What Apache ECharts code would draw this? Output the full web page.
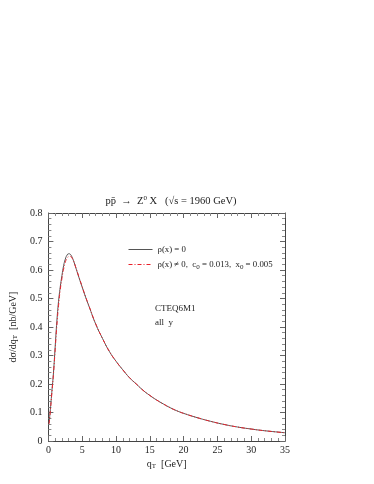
<!DOCTYPE html>
<html>
<head>
<meta charset="utf-8">
<script src="https://cdn.jsdelivr.net/npm/echarts@6/dist/echarts.min.js"></script>
<style>
  html, body { margin: 0; padding: 0; background: #fff; }
  #myChart { width: 374px; height: 484px; }
</style>
</head>
<body>
<div id="myChart"></div>
<script>
  // q_T values (GeV)
  var qT = [0.1, 0.25, 0.5, 0.75, 1, 1.25, 1.5, 1.75, 2, 2.25, 2.5, 2.75, 3, 3.25, 3.5, 3.75, 4, 4.5, 5, 5.5, 6, 7, 8, 9, 10, 11, 12, 13, 14, 15, 16, 17, 18, 19, 20, 22, 24, 26, 28, 30, 32, 35]
  // rho(x) = 0
  var rhoZero = [0.063, 0.1, 0.17, 0.24, 0.33, 0.42, 0.49, 0.54, 0.58, 0.615, 0.638, 0.652, 0.657, 0.655, 0.645, 0.63, 0.612, 0.575, 0.54, 0.505, 0.473, 0.41, 0.36, 0.315, 0.28, 0.25, 0.222, 0.2, 0.178, 0.16, 0.144, 0.13, 0.117, 0.106, 0.097, 0.082, 0.069, 0.058, 0.049, 0.042, 0.036, 0.029]
  // rho(x) != 0, c0 = 0.013, x0 = 0.005
  var rhoNonZero = [0.06, 0.095, 0.165, 0.235, 0.32, 0.405, 0.475, 0.53, 0.57, 0.603, 0.627, 0.641, 0.647, 0.648, 0.642, 0.63, 0.613, 0.577, 0.541, 0.506, 0.474, 0.411, 0.36, 0.315, 0.28, 0.25, 0.222, 0.2, 0.178, 0.16, 0.144, 0.13, 0.117, 0.106, 0.097, 0.082, 0.069, 0.058, 0.049, 0.042, 0.036, 0.029]

  var FONT = 'Liberation Serif'

  function pairs (xs, ys) {
    var out = []
    for (var i = 0; i < xs.length; i++) {
      out.push([xs[i], ys[i]])
    }
    return out
  }

  var axisCommon = {
    axisLine: { show: true, onZero: false, lineStyle: { color: '#444', width: 1 } },
    axisTick: { show: true, inside: true, length: 5, lineStyle: { color: '#666' } },
    minorTick: { show: true, splitNumber: 5, length: 3, lineStyle: { color: '#888' } },
    splitLine: { show: false }
  }

  var subStyle = { fontSize: 7, verticalAlign: 'bottom', padding: [5, 0, 0, 0], fontFamily: FONT, color: '#222' }

  var option = {
    animation: false,
    textStyle: { fontFamily: FONT },
    title: {
      text: 'pp\u0304  \u2192  Z{sup|0} X   (\u221As = 1960 GeV)',
      left: 166,
      textAlign: 'center',
      top: 190,
      textStyle: {
        fontFamily: FONT,
        fontSize: 10.5,
        fontWeight: 'normal',
        color: '#222',
        rich: {
          sup: { fontSize: 7, verticalAlign: 'top', padding: [0, 0, 6, 0], fontFamily: FONT, color: '#222' }
        }
      }
    },
    legend: {
      orient: 'vertical',
      left: 128,
      top: 245,
      padding: 0,
      itemWidth: 24,
      itemHeight: 8,
      itemGap: 6,
      data: ['zero', 'nonzero'],
      itemStyle: { opacity: 0 },
      lineStyle: { width: 1 },
      formatter: function (name) {
        if (name === 'zero') return '\u03C1(x) = 0'
        return '\u03C1(x) \u2260 0,  c{sub|0} = 0.013,  x{sub|0} = 0.005'
      },
      textStyle: {
        fontFamily: FONT,
        fontSize: 8.8,
        color: '#222',
        rich: { sub: subStyle }
      }
    },
    graphic: [
      {
        type: 'text',
        left: 155,
        top: 304,
        style: { text: 'CTEQ6M1', font: '9px "Liberation Serif"', fill: '#222' }
      },
      {
        type: 'text',
        left: 155,
        top: 318,
        style: { text: 'all  y', font: '9px "Liberation Serif"', fill: '#222' }
      }
    ],
    grid: {
      left: 47,
      right: 89,
      top: 213,
      bottom: 43
    },
    xAxis: [
      Object.assign({}, axisCommon, {
        type: 'value',
        min: 0,
        max: 35,
        interval: 5,
        name: 'q{sub|T}  [GeV]',
        nameLocation: 'middle',
        nameGap: 17,
        nameTextStyle: {
          fontFamily: FONT,
          fontSize: 10,
          color: '#222',
          rich: { sub: subStyle }
        },
        axisLabel: { fontFamily: FONT, fontSize: 10, color: '#222', margin: 4 }
      }),
      Object.assign({}, axisCommon, {
        type: 'value',
        position: 'top',
        min: 0,
        max: 35,
        interval: 5,
        axisLabel: { show: false }
      })
    ],
    yAxis: [
      Object.assign({}, axisCommon, {
        type: 'value',
        min: 0,
        max: 0.8,
        interval: 0.1,
        name: 'd\u03C3/dq{sub|T}  [nb/GeV]',
        nameLocation: 'middle',
        nameGap: 24,
        nameTextStyle: {
          fontFamily: FONT,
          fontSize: 10,
          color: '#222',
          rich: { sub: subStyle }
        },
        axisLabel: { fontFamily: FONT, fontSize: 10, color: '#222', margin: 6 }
      }),
      Object.assign({}, axisCommon, {
        type: 'value',
        position: 'right',
        min: 0,
        max: 0.8,
        interval: 0.1,
        axisLabel: { show: false }
      })
    ],
    series: [
      {
        name: 'zero',
        type: 'line',
        smooth: true,
        symbol: 'none',
        data: pairs(qT, rhoZero),
        lineStyle: { color: '#555', width: 1 },
        itemStyle: { color: '#555' }
      },
      {
        name: 'nonzero',
        type: 'line',
        smooth: true,
        symbol: 'none',
        data: pairs(qT, rhoNonZero),
        lineStyle: { color: '#e8202a', width: 1, type: [4, 2, 1, 2] },
        itemStyle: { color: '#e8202a' }
      }
    ]
  }

  var myChart = echarts.init(document.getElementById('myChart'))
  myChart.setOption(option)
</script>
</body>
</html>
